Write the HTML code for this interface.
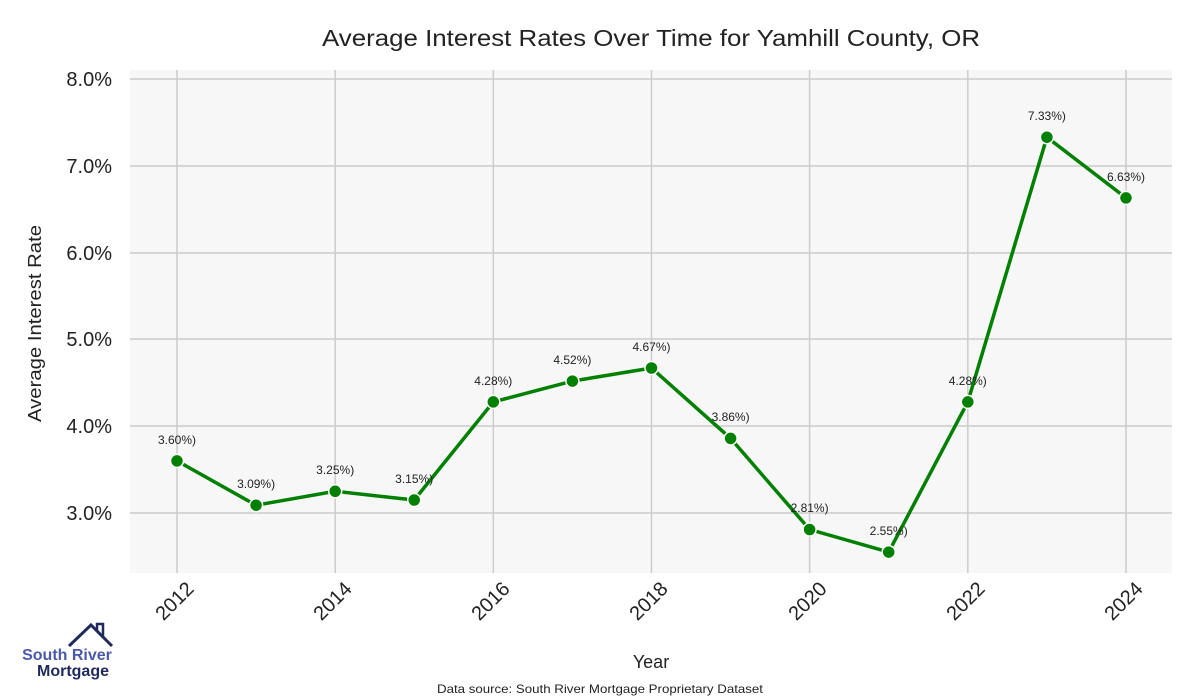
<!DOCTYPE html>
<html><head><style>body{margin:0;background:#fff}svg{display:block}</style></head><body>
<svg width="1200" height="700" xmlns="http://www.w3.org/2000/svg" font-family="Liberation Sans, sans-serif">
<rect width="1200" height="700" fill="#fff"/>
<rect x="130" y="70" width="1042" height="503" fill="#f7f7f7"/>
<g stroke="#cccccc" stroke-width="1.5">
<line x1="130" x2="1172" y1="79" y2="79"/><line x1="130" x2="1172" y1="166" y2="166"/><line x1="130" x2="1172" y1="253" y2="253"/><line x1="130" x2="1172" y1="339" y2="339"/><line x1="130" x2="1172" y1="426" y2="426"/><line x1="130" x2="1172" y1="513" y2="513"/>
<line x1="177" x2="177" y1="70" y2="573"/><line x1="335.2" x2="335.2" y1="70" y2="573"/><line x1="493.3" x2="493.3" y1="70" y2="573"/><line x1="651.5" x2="651.5" y1="70" y2="573"/><line x1="809.6" x2="809.6" y1="70" y2="573"/><line x1="967.8" x2="967.8" y1="70" y2="573"/><line x1="1126" x2="1126" y1="70" y2="573"/>
</g>
<text x="322" y="46" font-size="23" fill="#222" textLength="658" lengthAdjust="spacingAndGlyphs">Average Interest Rates Over Time for Yamhill County, OR</text>
<g font-size="20" fill="#222" text-anchor="end">
<text x="112" y="86">8.0%</text><text x="112" y="173">7.0%</text><text x="112" y="260">6.0%</text><text x="112" y="346">5.0%</text><text x="112" y="433">4.0%</text><text x="112" y="520">3.0%</text>
</g>
<text transform="translate(41,422) rotate(-90)" font-size="18" fill="#222" textLength="197" lengthAdjust="spacingAndGlyphs">Average Interest Rate</text>
<g font-size="20" fill="#222" text-anchor="end">
<text transform="translate(195,590) rotate(-45)">2012</text>
<text transform="translate(353,590) rotate(-45)">2014</text>
<text transform="translate(511,590) rotate(-45)">2016</text>
<text transform="translate(669,590) rotate(-45)">2018</text>
<text transform="translate(828,590) rotate(-45)">2020</text>
<text transform="translate(986,590) rotate(-45)">2022</text>
<text transform="translate(1144,590) rotate(-45)">2024</text>
</g>
<text x="651" y="668" font-size="18" text-anchor="middle" fill="#222">Year</text>
<text x="437" y="693" font-size="12" fill="#222" textLength="326" lengthAdjust="spacingAndGlyphs">Data source: South River Mortgage Proprietary Dataset</text>
<polyline fill="none" stroke="#008000" stroke-width="3.5" points="177,460.9 256.1,505.2 335.2,491.3 414.2,500 493.3,401.9 572.4,381.1 651.5,368 730.6,438.4 809.6,529.5 888.7,552.1 967.8,401.9 1046.9,137.2 1126,197.9"/>
<g fill="#008000" stroke="#fff" stroke-width="1.5">
<circle cx="177" cy="460.9" r="6.5"/><circle cx="256.1" cy="505.2" r="6.5"/><circle cx="335.2" cy="491.3" r="6.5"/><circle cx="414.2" cy="500" r="6.5"/><circle cx="493.3" cy="401.9" r="6.5"/><circle cx="572.4" cy="381.1" r="6.5"/><circle cx="651.5" cy="368" r="6.5"/><circle cx="730.6" cy="438.4" r="6.5"/><circle cx="809.6" cy="529.5" r="6.5"/><circle cx="888.7" cy="552.1" r="6.5"/><circle cx="967.8" cy="401.9" r="6.5"/><circle cx="1046.9" cy="137.2" r="6.5"/><circle cx="1126" cy="197.9" r="6.5"/>
</g>
<g font-size="12" fill="#222" text-anchor="middle">
<text x="177" y="444">3.60%)</text><text x="256.1" y="488">3.09%)</text><text x="335.2" y="474">3.25%)</text><text x="414.2" y="483">3.15%)</text><text x="493.3" y="385">4.28%)</text><text x="572.4" y="364">4.52%)</text><text x="651.5" y="351">4.67%)</text><text x="730.6" y="421">3.86%)</text><text x="809.6" y="512">2.81%)</text><text x="888.7" y="535">2.55%)</text><text x="967.8" y="385">4.28%)</text><text x="1046.9" y="120">7.33%)</text><text x="1126" y="181">6.63%)</text>
</g>
<polyline fill="none" stroke="#1f2a5c" stroke-width="3" points="69,646 91,625 112,646"/>
<polyline fill="none" stroke="#1f2a5c" stroke-width="2.5" points="97,631 97,624 103,624 103,637"/>
<text x="67" y="660" font-size="16" font-weight="bold" fill="#4a5aa8" text-anchor="middle">South River</text>
<text x="73" y="676" font-size="16" font-weight="bold" fill="#1f2a5c" text-anchor="middle">Mortgage</text>
</svg>
</body></html>
